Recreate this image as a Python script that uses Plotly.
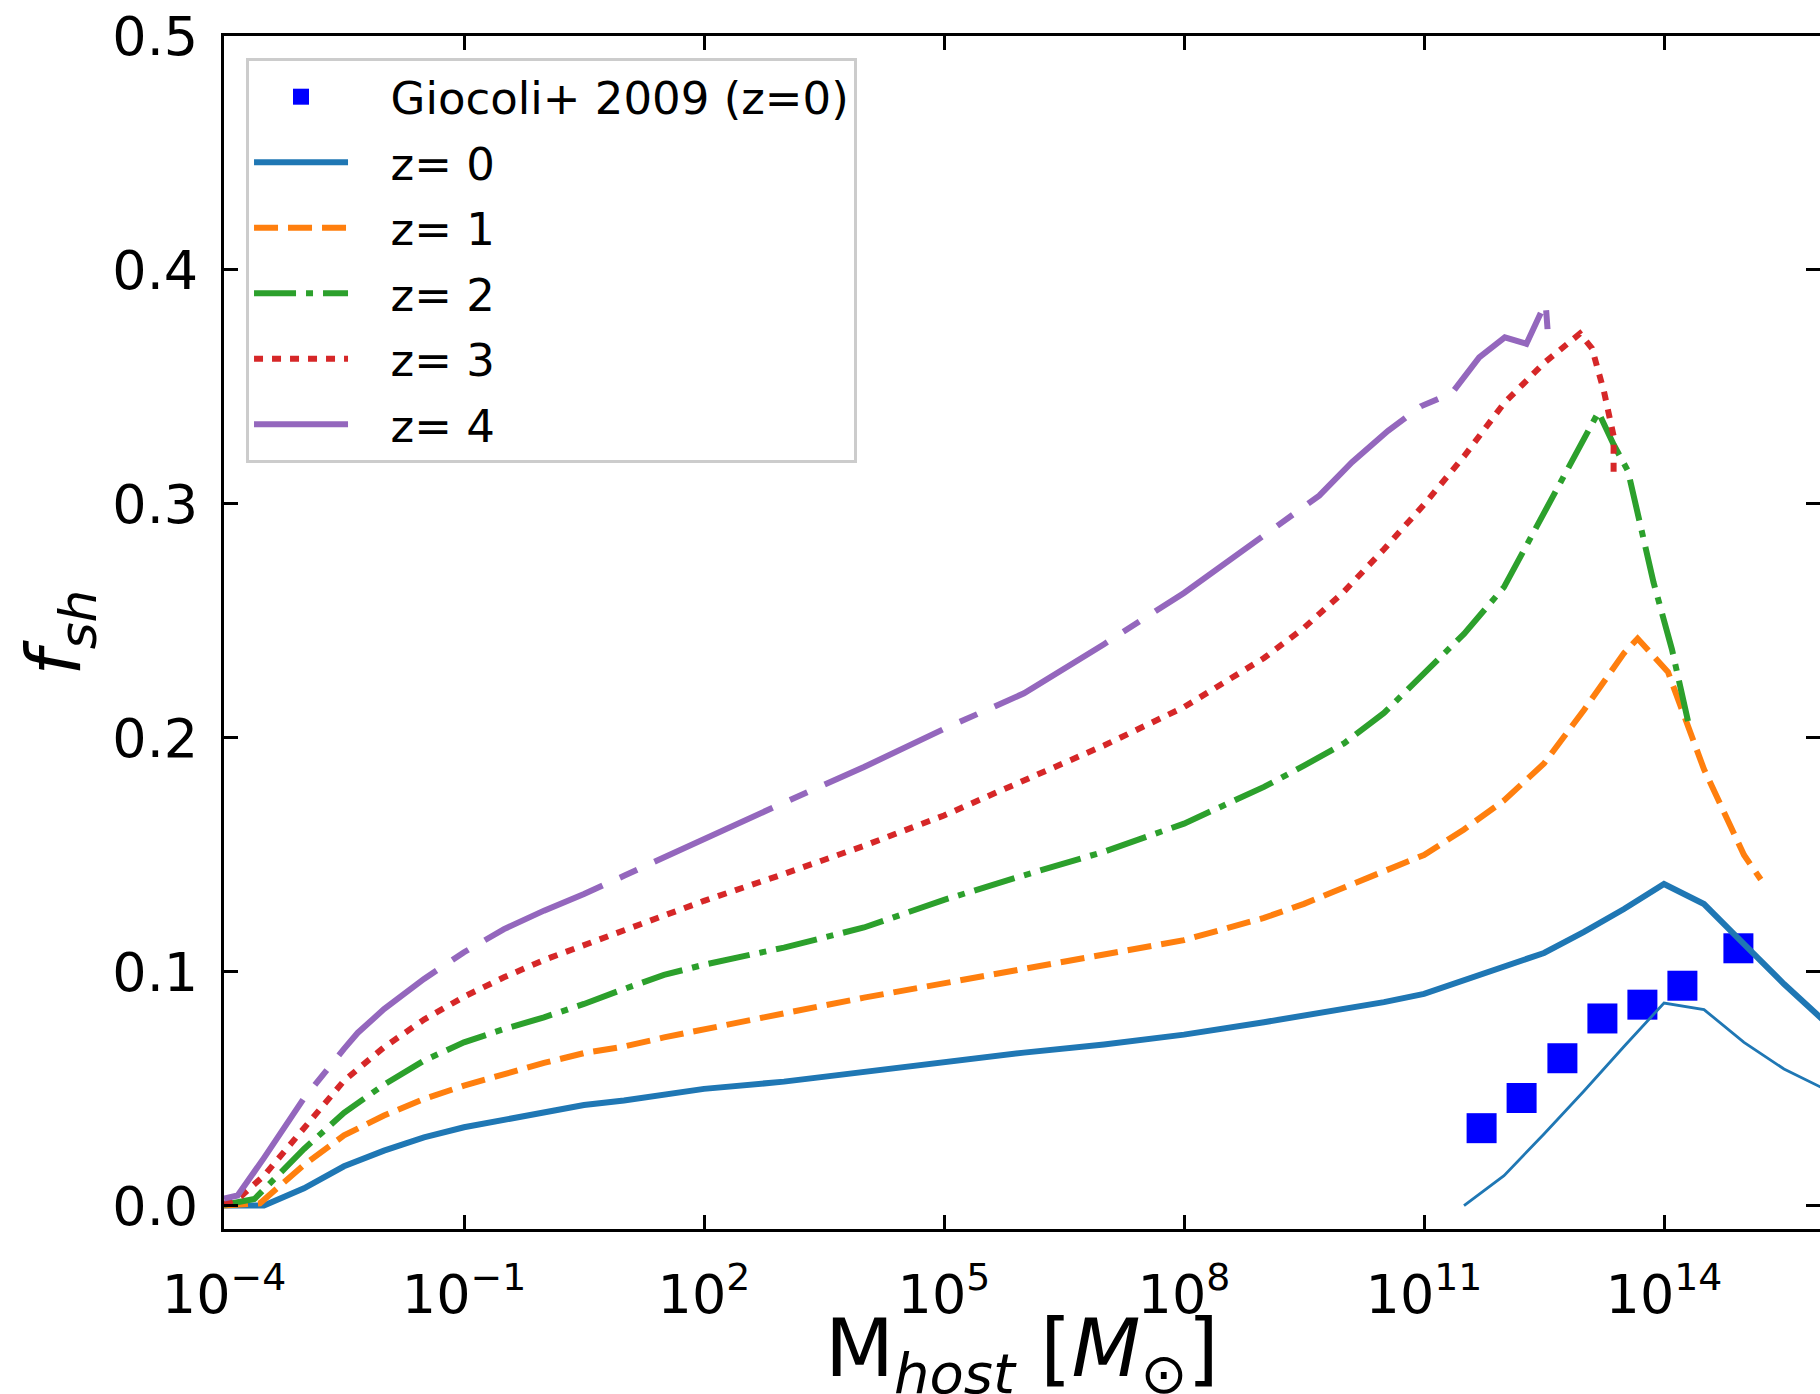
import plotly.graph_objects as go

# ---------------- data ----------------
# log10 of host mass [M_sun] and subhalo mass fraction f_sh
logM_z0 = [-4, -3.5, -3, -2.5, -2, -1.5, -1, -0.5, 0, 0.5, 1, 1.5, 2, 3, 4, 5, 6, 7, 8, 9,
           9.5, 10, 10.5, 11, 11.5, 12, 12.5, 13, 13.5, 14, 14.5, 15, 15.5, 16]
f_z0 = [0.000, 0.000, 0.0074, 0.0168, 0.0235, 0.0292, 0.0335, 0.0368, 0.0395, 0.0430, 0.0449,
        0.0474, 0.0499, 0.0530, 0.0572, 0.0612, 0.0654, 0.0689, 0.0731, 0.0784, 0.0811, 0.0840,
        0.0870, 0.0905, 0.0962, 0.1019, 0.1080, 0.1170, 0.1268, 0.1375, 0.1289, 0.1118, 0.0947,
        0.0790]

logM_z1 = [-4, -3.55, -3, -2.5, -2, -1.5, -1, -0.5, 0, 0.5, 1, 1.5, 2, 3, 4, 5, 6, 7, 8, 9,
           9.5, 10, 10.5, 11, 11.5, 12, 12.5, 13, 13.5, 13.67, 14.05, 14.5, 15, 15.21]
f_z1 = [0.000, 0.001, 0.0174, 0.0300, 0.0385, 0.0456, 0.0513, 0.0563, 0.0610, 0.0652, 0.0680,
        0.0719, 0.0755, 0.0822, 0.0889, 0.0950, 0.1013, 0.1078, 0.1135, 0.1230, 0.1290, 0.1360,
        0.1427, 0.1499, 0.1608, 0.1732, 0.1890, 0.2119, 0.2362, 0.2424, 0.2281, 0.1865, 0.1499,
        0.1394]

logM_z2 = [-4, -3.62, -3, -2.5, -2, -1.5, -1, -0.5, 0, 0.5, 1, 1.5, 2, 3, 4, 5, 6, 7, 8, 9,
           9.5, 10, 10.5, 11, 11.5, 12, 12.5, 13, 13.18, 13.37, 13.55, 13.87, 14.1, 14.3]
f_z2 = [0.0003, 0.0028, 0.0242, 0.0397, 0.0517, 0.0620, 0.0698, 0.0755, 0.0805, 0.0862, 0.0926,
        0.0986, 0.1030, 0.1103, 0.1189, 0.1307, 0.1412, 0.1513, 0.1633, 0.1790, 0.1881, 0.1976,
        0.2106, 0.2272, 0.2444, 0.2644, 0.2959, 0.3283, 0.3392, 0.3254, 0.3140, 0.2663, 0.2377,
        0.2071]

logM_z3 = [-4, -3.8, -3.5, -3, -2.5, -2, -1.5, -1, -0.5, 0, 0.5, 1, 1.5, 2, 3, 4, 5, 6, 7, 8,
           9, 9.5, 10, 10.5, 11, 11.5, 12, 12.5, 12.95, 13.1, 13.25, 13.37, 13.37]
f_z3 = [0.0007, 0.0036, 0.0128, 0.0328, 0.0534, 0.0677, 0.0795, 0.0893, 0.0976, 0.1050, 0.1112,
        0.1178, 0.1239, 0.1303, 0.1418, 0.1538, 0.1668, 0.1815, 0.1967, 0.2131, 0.2341, 0.2470,
        0.2625, 0.2806, 0.2997, 0.3203, 0.3430, 0.3602, 0.3728, 0.3665, 0.3480, 0.3290, 0.3110]

logM_z4 = [-4, -3.83, -3.5, -3, -2.5, -2.33, -2, -1.5, -1, -0.5, 0, 0.5, 1, 1.5, 2, 3, 4, 5, 6,
           7, 8, 9, 9.5, 9.69, 10.1, 10.55, 10.96, 11.35, 11.69, 12.01, 12.28, 12.52, 12.55]
f_z4 = [0.0030, 0.0043, 0.0204, 0.0459, 0.0670, 0.0738, 0.0840, 0.0969, 0.1083, 0.1182, 0.1261,
        0.1332, 0.1410, 0.1489, 0.1567, 0.1723, 0.1875, 0.2038, 0.2190, 0.2400, 0.2619, 0.2864,
        0.2982, 0.3035, 0.3178, 0.3312, 0.3417, 0.3474, 0.3626, 0.3712, 0.3684, 0.3860, 0.3720]

# thin z=0 comparison curve (no legend entry)
logM_thin = [11.5, 12, 12.5, 13, 13.5, 14, 14.5, 15, 15.5, 16]
f_thin = [0.000, 0.0128, 0.0306, 0.0490, 0.0680, 0.0866, 0.0838, 0.0698, 0.0584, 0.0500]

# Giocoli+ 2009 (z=0) points
logM_gio = [11.72, 12.22, 12.73, 13.23, 13.73, 14.23, 14.93]
f_gio = [0.0331, 0.0460, 0.0630, 0.0800, 0.0859, 0.0940, 0.1100]

x_tick_exp = [-4, -1, 2, 5, 8, 11, 14]
x_tick_text = ["10<sup>\u22124</sup>", "10<sup>\u22121</sup>", "10<sup>2</sup>", "10<sup>5</sup>",
               "10<sup>8</sup>", "10<sup>11</sup>", "10<sup>14</sup>"]
y_tick_vals = [0.0, 0.1, 0.2, 0.3, 0.4, 0.5]
y_tick_text = ["0.0", "0.1", "0.2", "0.3", "0.4", "0.5"]

x_title = "M<sub><i>host</i></sub> [<i>M</i><sub>\u2299</sub>]"
y_title = "<i>f</i><sub><i>sh</i></sub>"
gio_name = "Giocoli+ 2009 (z=0)"
series_names = ["z= 0", "z= 1", "z= 2", "z= 3", "z= 4"]
series_colors = ["#1f77b4", "#ff7f0e", "#2ca02c", "#d62728", "#9467bd"]
series_dash = ["solid", "24px,10px", "42px,10px,7px,10px", "9px,9px", "130px,19px,19px,19px"]

# ---------------- figure ----------------
FONT = "DejaVu Sans"
PAD = "\u00a0\u00a0\u2009"   # gap between legend sample and its label
fig = go.Figure()

fig.add_trace(go.Scatter(
    x=[10 ** v for v in logM_gio], y=f_gio, mode="markers",
    name=PAD + gio_name,
    marker=dict(symbol="square", size=30, color="#0000ff", line=dict(width=0)),
    legendgroup="g0"))

curves = [(logM_z0, f_z0), (logM_z1, f_z1), (logM_z2, f_z2), (logM_z3, f_z3), (logM_z4, f_z4)]
for i, (lm, fv) in enumerate(curves):
    fig.add_trace(go.Scatter(
        x=[10 ** v for v in lm], y=fv, mode="lines", name=PAD + series_names[i],
        line=dict(color=series_colors[i], width=6, dash=series_dash[i]),
        legendgroup="g%d" % (i + 1)))
    if i == 0:
        fig.add_trace(go.Scatter(
            x=[10 ** v for v in logM_thin], y=f_thin, mode="lines", showlegend=False,
            line=dict(color="#1f77b4", width=2.8)))

# empty trace to activate the right-hand tick axis
fig.add_trace(go.Scatter(x=[None], y=[None], yaxis="y2", showlegend=False, hoverinfo="skip"))

tick_font = dict(family=FONT, size=54, color="black")

fig.update_layout(
    width=1820, height=1394,
    margin=dict(l=224, r=0, t=36, b=165, autoexpand=False),
    paper_bgcolor="white", plot_bgcolor="white",
    font=dict(family=FONT, color="black"),
    xaxis=dict(
        type="log", range=[-4, 15.95], automargin=False,
        tickvals=[10 ** e for e in x_tick_exp], ticktext=x_tick_text,
        ticks="inside", ticklen=14, tickwidth=3, tickcolor="black",
        showline=True, linewidth=3, linecolor="black", mirror="ticks",
        showgrid=False, zeroline=False, tickfont=tick_font, ticklabelstandoff=16,
    ),
    yaxis=dict(
        range=[-0.01, 0.5], automargin=False,
        tickvals=y_tick_vals, ticktext=y_tick_text,
        ticks="inside", ticklen=14, tickwidth=3, tickcolor="black",
        showline=True, linewidth=3, linecolor="black", mirror=False,
        showgrid=False, zeroline=False, tickfont=tick_font, ticklabelstandoff=12,
    ),
    yaxis2=dict(
        overlaying="y", side="right", range=[-0.01, 0.5], tickvals=y_tick_vals,
        automargin=False,
        ticks="inside", ticklen=14, tickwidth=3, tickcolor="black",
        showticklabels=False, showline=False, showgrid=False, zeroline=False,
    ),
    legend=dict(
        x=0.0138, y=0.9816, xanchor="left", yanchor="top",
        bgcolor="white", bordercolor="#cccccc", borderwidth=3,
        font=dict(family=FONT, size=45, color="black"),
        itemwidth=94, tracegroupgap=4,
    ),
    showlegend=True,
    annotations=[
        dict(text=x_title, xref="paper", yref="paper", x=0.5, y=-0.15,
             xanchor="center", yanchor="bottom", showarrow=False,
             font=dict(family=FONT, size=80, color="black")),
        dict(text=y_title, xref="paper", yref="paper", x=-0.1028, y=0.5,
             xanchor="center", yanchor="middle", textangle=-90, showarrow=False,
             font=dict(family=FONT, size=74, color="black")),
    ],
)

fig.write_html("out.html")
